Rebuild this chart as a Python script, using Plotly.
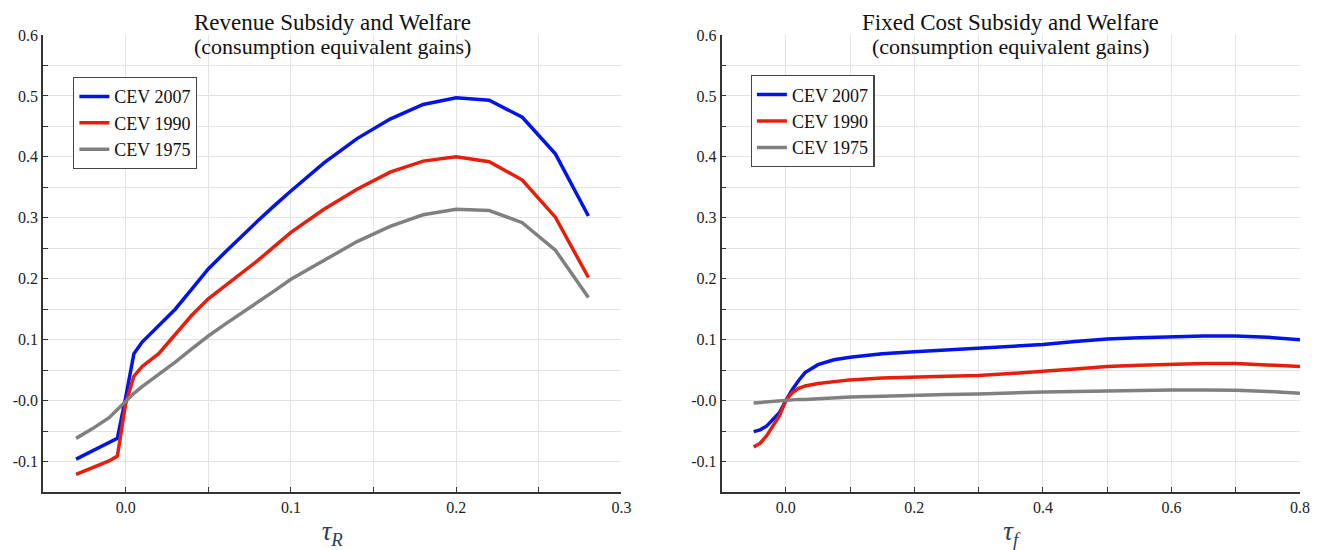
import plotly.graph_objects as go
from plotly.subplots import make_subplots

# Revenue subsidy (left panel)
tau_r = [-0.03, -0.02, -0.01, -0.005, 0.0, 0.005, 0.01, 0.02, 0.03, 0.04, 0.05, 0.06, 0.07,
         0.08, 0.09, 0.10, 0.12, 0.14, 0.16, 0.18, 0.20, 0.22, 0.24, 0.26, 0.28]
rev_2007 = [-0.096, -0.083, -0.069, -0.062, 0.005, 0.077, 0.096, 0.123, 0.150, 0.183, 0.216, 0.243,
            0.270, 0.295, 0.320, 0.344, 0.390, 0.430, 0.462, 0.486, 0.497, 0.493, 0.465, 0.405, 0.303]
rev_1990 = [-0.121, -0.110, -0.099, -0.091, -0.005, 0.040, 0.056, 0.077, 0.108, 0.140, 0.167, 0.188,
            0.208, 0.230, 0.253, 0.276, 0.314, 0.347, 0.375, 0.393, 0.400, 0.392, 0.362, 0.301, 0.202]
rev_1975 = [-0.062, -0.046, -0.028, -0.015, 0.0, 0.012, 0.023, 0.043, 0.063, 0.085, 0.106, 0.125,
            0.143, 0.162, 0.180, 0.199, 0.230, 0.261, 0.286, 0.305, 0.314, 0.312, 0.292, 0.247, 0.169]

# Fixed cost subsidy (right panel)
tau_f = [-0.05, -0.04, -0.03, -0.01, 0.0, 0.01, 0.02, 0.03, 0.05, 0.075, 0.10, 0.15, 0.20, 0.25,
         0.30, 0.35, 0.40, 0.45, 0.50, 0.55, 0.60, 0.65, 0.70, 0.75, 0.80]
fix_2007 = [-0.051, -0.048, -0.042, -0.020, 0.0, 0.018, 0.033, 0.046, 0.059, 0.067, 0.071, 0.077,
            0.080, 0.083, 0.085, 0.088, 0.092, 0.097, 0.101, 0.103, 0.105, 0.106, 0.106, 0.104, 0.100]
fix_1990 = [-0.076, -0.070, -0.058, -0.025, 0.0, 0.013, 0.020, 0.024, 0.028, 0.031, 0.034, 0.037,
            0.039, 0.040, 0.041, 0.044, 0.048, 0.052, 0.056, 0.058, 0.060, 0.061, 0.061, 0.059, 0.056]
fix_1975 = [-0.004, -0.003, -0.002, -0.001, 0.0, 0.001, 0.002, 0.002, 0.003, 0.005, 0.006, 0.007,
            0.009, 0.010, 0.011, 0.013, 0.014, 0.015, 0.016, 0.017, 0.0175, 0.0175, 0.017, 0.015, 0.012]

series_names = ["CEV 2007", "CEV 1990", "CEV 1975"]
colors = ["#0414e6", "#e81e0c", "#808080"]

y_vals = [-0.15, -0.1, -0.05, 0.0, 0.05, 0.1, 0.15, 0.2, 0.25, 0.3, 0.35, 0.4, 0.45, 0.5, 0.55, 0.6]
y_text = ["", "-0.1", "", "-0.0", "", "0.1", "", "0.2", "", "0.3", "", "0.4", "", "0.5", "", "0.6"]

FONT = "Liberation Serif"

fig = make_subplots(rows=1, cols=2, horizontal_spacing=0.0796)

for name, col, ys in zip(series_names, colors, [rev_2007, rev_1990, rev_1975]):
    fig.add_trace(go.Scatter(x=tau_r, y=ys, name=name, mode="lines",
                             line=dict(color=col, width=3.5), legend="legend"), row=1, col=1)
for name, col, ys in zip(series_names, colors, [fix_2007, fix_1990, fix_1975]):
    fig.add_trace(go.Scatter(x=tau_f, y=ys, name=name, mode="lines",
                             line=dict(color=col, width=3.5), legend="legend2"), row=1, col=2)

axis_style = dict(showline=True, linecolor="#333333", linewidth=1.5, ticks="inside", ticklen=5,
                  tickcolor="#333333", showgrid=True, gridcolor="#e3e3e3", gridwidth=1,
                  zeroline=False, automargin=False,
                  tickfont=dict(family=FONT, size=16, color="#222222"))

fig.update_yaxes(range=[-0.15, 0.6], tickmode="array", tickvals=y_vals, ticktext=y_text, **axis_style)
fig.update_xaxes(range=[-0.05, 0.3], tickmode="array",
                 tickvals=[-0.05, 0, 0.05, 0.1, 0.15, 0.2, 0.25, 0.3],
                 ticktext=["", "0.0", "", "0.1", "", "0.2", "", "0.3"],
                 title=dict(text="<i>τ</i><sub><i>R</i></sub>", font=dict(family=FONT, size=27), standoff=6),
                 row=1, col=1, **axis_style)
fig.update_xaxes(range=[-0.1, 0.8], tickmode="array",
                 tickvals=[-0.1, 0, 0.1, 0.2, 0.3, 0.4, 0.5, 0.6, 0.7, 0.8],
                 ticktext=["", "0.0", "", "0.2", "", "0.4", "", "0.6", "", "0.8"],
                 title=dict(text="<i>τ</i><sub><i>f</i></sub>", font=dict(family=FONT, size=27), standoff=6),
                 row=1, col=2, **axis_style)

legend_style = dict(bgcolor="white", bordercolor="#444444", borderwidth=1.2,
                    font=dict(family=FONT, size=18, color="#111111"),
                    xanchor="left", yanchor="top", tracegroupgap=0)
fig.update_layout(
    legend=dict(x=0.024, y=0.908, **legend_style),
    legend2=dict(x=0.563, y=0.912, **legend_style),
)

titles = [("Revenue Subsidy and Welfare", 0.2303, 1.059), ("Fixed Cost Subsidy and Welfare", 0.770, 1.059)]
for text, xc, yt in titles:
    fig.add_annotation(text=text, x=xc, y=yt, xref="paper", yref="paper", showarrow=False,
                       xanchor="center", yanchor="top", font=dict(family=FONT, size=23, color="#111111"))
    fig.add_annotation(text="(consumption equivalent gains)", x=xc, y=0.974, xref="paper", yref="paper",
                       showarrow=False, xanchor="center", yanchor="middle",
                       font=dict(family=FONT, size=22, color="#111111"))

# page body has an 8px margin, so the figure is sized to fit the 1325x550 window
fig.update_layout(width=1317, height=542, margin=dict(l=35, r=25, t=27, b=58),
                  plot_bgcolor="white", paper_bgcolor="white",
                  font=dict(family=FONT))

fig.write_html("out.html")
